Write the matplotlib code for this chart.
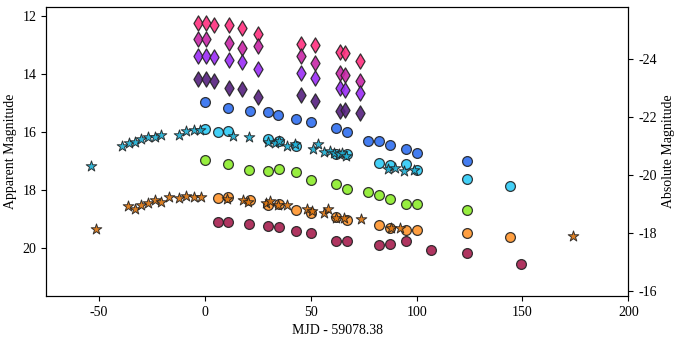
import matplotlib.pyplot as plt
import numpy as np

plt.rcParams['font.family'] = ['Liberation Serif', 'DejaVu Serif']
plt.rcParams['axes.unicode_minus'] = False

dist_mod = 37.5

# diamonds (UV-ish bands), same epochs for all four
dia_t = [-3.2, 0.3, 4.2, 11.5, 17.6, 25.2, 45.4, 52.2, 63.9, 66.1, 73.4]
dia_pink = [12.23, 12.23, 12.31, 12.31, 12.41, 12.62, 12.97, 12.99, 13.26, 13.28, 13.55]
dia_mag_t = [-3.2, 0.3, 11.5, 17.6, 25.2, 45.4, 52.2, 63.9, 66.1, 73.4]
dia_mag = [12.80, 12.80, 12.93, 13.11, 13.04, 13.38, 13.61, 13.96, 14.03, 14.24]
dia_violet = [13.39, 13.39, 13.43, 13.52, 13.58, 13.84, 13.96, 14.15, 14.47, 14.55, 14.66]
dia_dark = [14.17, 14.17, 14.26, 14.47, 14.52, 14.80, 14.72, 14.93, 15.29, 15.24, 15.35]

# circles
blue_t = [0.0, 11.0, 21.1, 29.9, 34.4, 43.0, 50.1, 62.0, 66.9, 77.1, 82.0, 87.2, 95.0, 100.0, 124.0]
blue_m = [14.98, 15.16, 15.29, 15.31, 15.41, 15.55, 15.67, 15.86, 16.00, 16.32, 16.31, 16.45, 16.58, 16.73, 16.99]

cyan_t = [0.0, 6.2, 11.0, 29.9, 35.1, 43.2, 62.0, 67.0, 82.0, 87.2, 95.0, 100.0, 124.0, 144.0]
cyan_m = [15.90, 16.00, 15.98, 16.24, 16.32, 16.47, 16.75, 16.75, 17.06, 17.14, 17.12, 17.31, 17.62, 17.85]

green_t = [0.0, 11.0, 20.9, 29.9, 34.8, 43.0, 50.1, 62.0, 67.0, 77.1, 82.0, 87.2, 95.0, 100.0, 124.0]
green_m = [16.98, 17.09, 17.30, 17.34, 17.28, 17.37, 17.65, 17.81, 17.98, 18.08, 18.16, 18.32, 18.50, 18.47, 18.70]

orange_t = [6.1, 11.0, 21.1, 29.9, 35.1, 43.0, 50.1, 62.0, 67.0, 82.0, 87.2, 95.0, 100.0, 124.0, 144.0]
orange_m = [18.28, 18.26, 18.33, 18.53, 18.49, 18.69, 18.81, 18.93, 19.04, 19.21, 19.32, 19.38, 19.39, 19.50, 19.63]

maroon_t = [6.2, 11.0, 20.9, 29.9, 34.8, 43.0, 50.1, 62.0, 67.0, 82.0, 87.2, 95.0, 107.0, 124.0, 149.1]
maroon_m = [19.12, 19.12, 19.16, 19.26, 19.29, 19.43, 19.48, 19.75, 19.75, 19.90, 19.87, 19.77, 20.06, 20.19, 20.56]

# stars
cstar_t = [-54.0, -39.2, -36.0, -32.9, -30.0, -26.9, -23.7, -21.0, -12.2, -9.0, -5.1, -2.4,
           13.4, 21.0, 29.9, 33.1, 35.0, 38.9, 42.6, 50.9, 53.3, 56.1, 59.0, 61.0, 63.1,
           64.7, 66.6, 86.4, 89.8, 93.9, 98.6]
cstar_m = [17.16, 16.48, 16.39, 16.36, 16.25, 16.19, 16.19, 16.09, 16.12, 15.98, 15.95, 15.93,
           16.14, 16.16, 16.35, 16.38, 16.32, 16.49, 16.40, 16.59, 16.41, 16.70, 16.67, 16.74, 16.75,
           16.72, 16.84, 17.29, 17.25, 17.35, 17.30]

ostar_t = [-51.7, -36.4, -33.2, -30.0, -26.9, -23.7, -21.0, -17.0, -12.2, -9.0, -5.1, -1.9,
           10.4, 18.0, 20.1, 28.8, 30.7, 34.7, 38.9, 48.1, 50.5, 56.3, 58.3, 62.0, 65.9,
           73.5, 87.7, 92.0, 174.0]
ostar_m = [19.35, 18.57, 18.64, 18.52, 18.44, 18.35, 18.40, 18.26, 18.29, 18.21, 18.26, 18.23,
           18.32, 18.34, 18.43, 18.44, 18.39, 18.53, 18.53, 18.67, 18.72, 18.78, 18.67, 18.97, 18.95,
           19.00, 19.31, 19.30, 19.60]

fig, ax = plt.subplots(figsize=(6.8, 3.42), dpi=100)
fig.subplots_adjust(left=0.068, right=0.924, top=0.979, bottom=0.135)

dkw = dict(marker='d', s=60, edgecolors='#222222', linewidths=0.9, alpha=0.9, zorder=3)
ax.scatter(dia_t, dia_pink, c='#ff2f7e', **dkw)
ax.scatter(dia_mag_t, dia_mag, c='#c826a6', **dkw)
ax.scatter(dia_t, dia_violet, c='#9a2cf5', **dkw)
ax.scatter(dia_t, dia_dark, c='#55207e', **dkw)

ckw = dict(marker='o', s=50, edgecolors='#222222', linewidths=0.9, alpha=0.9, zorder=3)
ax.scatter(blue_t, blue_m, c='#2f6ff0', **ckw)
ax.scatter(cyan_t, cyan_m, c='#2ecbf7', **ckw)
ax.scatter(green_t, green_m, c='#8ced2a', **ckw)
ax.scatter(orange_t, orange_m, c='#ff952c', **ckw)
ax.scatter(maroon_t, maroon_m, c='#a61f4f', **ckw)

skw = dict(marker='*', s=65, edgecolors='#222222', linewidths=0.7, alpha=0.9, zorder=4)
ax.scatter(cstar_t, cstar_m, c='#1daed3', **skw)
ax.scatter(ostar_t, ostar_m, c='#d9710c', **skw)

ax.set_xlim(-75, 200)
ax.set_ylim(21.65, 11.7)
ax.set_xticks([-50, 0, 50, 100, 150, 200])
ax.set_yticks([12, 14, 16, 18, 20])
ax.set_xlabel('MJD - 59078.38', fontsize=10)
ax.set_ylabel('Apparent Magnitude', fontsize=10)
ax.tick_params(labelsize=10)

ax2 = ax.twinx()
lo, hi = ax.get_ylim()
ax2.set_ylim(lo - dist_mod, hi - dist_mod)
ax2.set_yticks([-24, -22, -20, -18, -16])
ax2.set_ylabel('Absolute Magnitude', fontsize=10)
ax2.tick_params(labelsize=10)

fig.savefig('out.png', dpi=100)
